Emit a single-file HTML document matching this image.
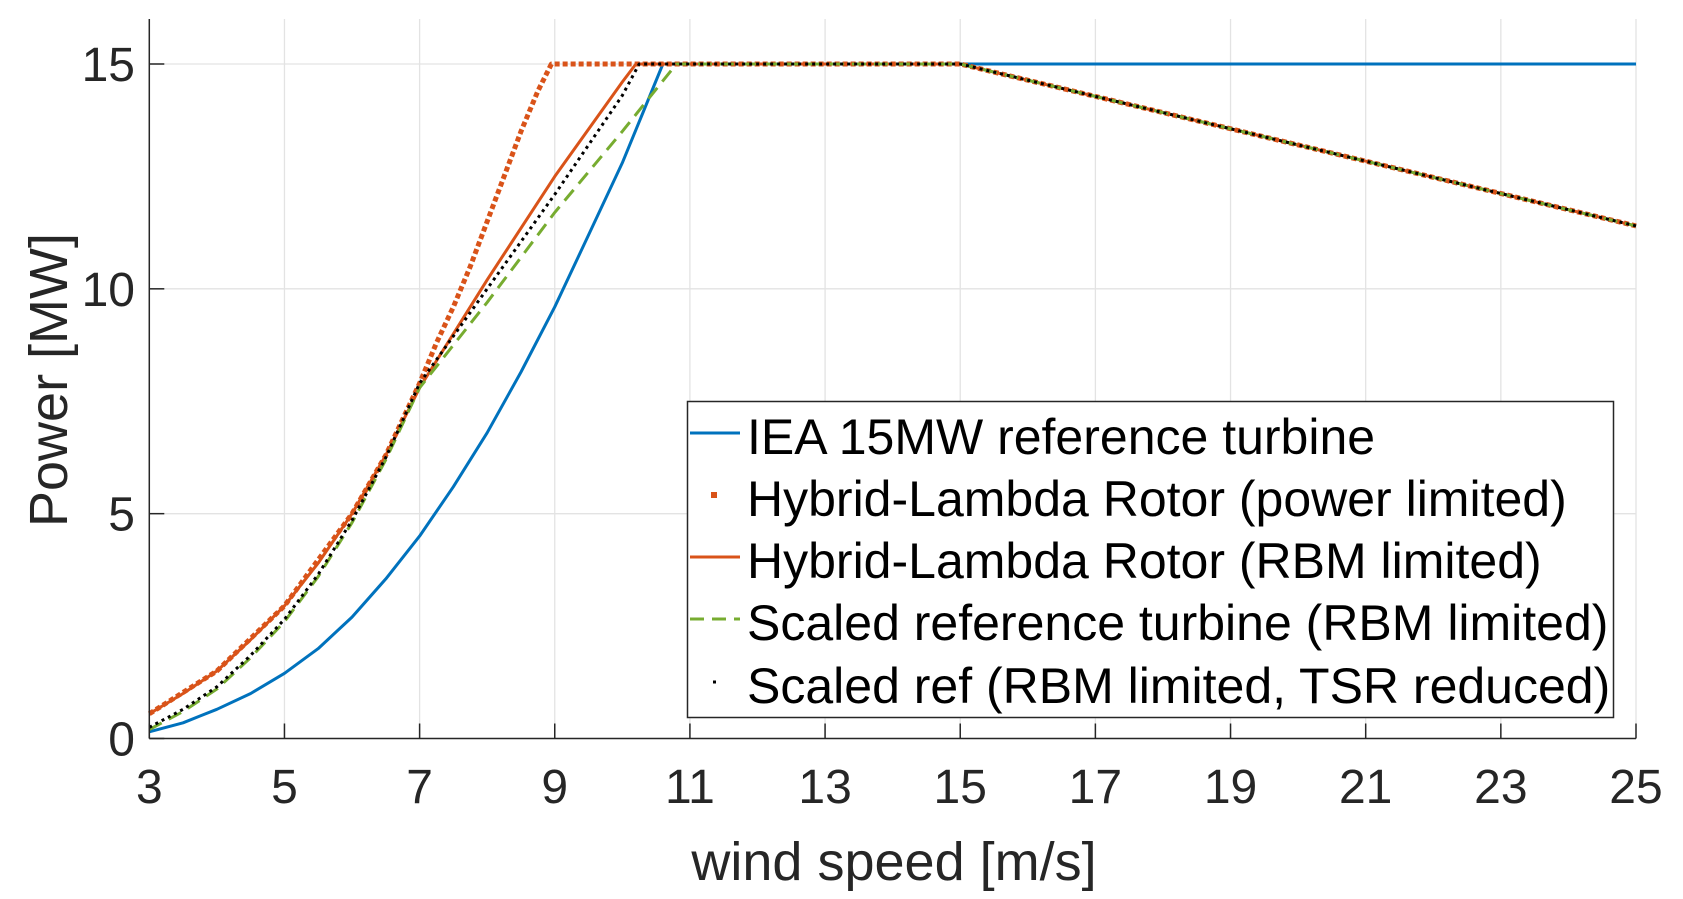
<!DOCTYPE html>
<html><head><meta charset="utf-8"><style>
html,body{margin:0;padding:0;background:#fff;}
svg{display:block;font-family:"Liberation Sans",Arial,sans-serif;}
</style></head><body>
<svg id="chart" width="1683" height="899" viewBox="0 0 1683 899" xmlns="http://www.w3.org/2000/svg"></svg>
<script>
const xTicks=[3,5,7,9,11,13,15,17,19,21,23,25];
const yTicks=[0,5,10,15];
const ieaX=[3,3.25,3.5,3.75,4,4.5,5,5.5,6,6.5,7,7.5,8,8.5,9,9.5,10,10.3,10.6,15,25];
const ieaY=[0.15,0.25,0.35,0.5,0.65,1.0,1.45,2.0,2.7,3.55,4.5,5.6,6.8,8.15,9.6,11.2,12.8,13.9,15,15,15];
const hlpX=[3,4,5,6,6.5,7,7.25,7.5,7.75,8,8.25,8.5,8.75,8.95,10.2,15,25];
const hlpY=[0.55,1.5,2.95,5.0,6.3,7.9,8.8,9.6,10.5,11.5,12.5,13.5,14.4,15,15,15,11.4];
const hlrX=[3,3.5,4,4.5,5,5.5,6,6.5,7,8,9,10,10.2,15,25];
const hlrY=[0.55,1.0,1.5,2.2,2.95,3.9,5.0,6.3,7.8,10.2,12.5,14.6,15,15,11.4];
const scX=[3,3.5,4,4.5,5,5.5,6,6.5,7,8,9,10,10.8,15,25];
const scY=[0.2,0.6,1.1,1.8,2.6,3.6,4.8,6.2,7.8,9.7,11.7,13.5,15,15,11.4];
const srX=[3,3.5,4,4.5,5,5.5,6,6.5,7,8,9,10,10.25,15,25];
const srY=[0.25,0.65,1.15,1.85,2.65,3.65,4.85,6.25,7.9,10.0,12.1,14.3,15,15,11.4];
const legendLabels=["IEA 15MW reference turbine","Hybrid-Lambda Rotor (power limited)","Hybrid-Lambda Rotor (RBM limited)","Scaled reference turbine (RBM limited)","Scaled ref (RBM limited, TSR reduced)"];

const svg=document.getElementById('chart');
const NS='http://www.w3.org/2000/svg';
const L=149.3,R=1636,T=19,B=738.5,X0=3,X1=25;
const yTop=64;
function sx(v){return L+(v-X0)/(X1-X0)*(R-L);}
function sy(v){return B-v/15*(B-yTop);}
function mk(tag,attrs,parent){const e=document.createElementNS(NS,tag);for(const k in attrs)e.setAttribute(k,attrs[k]);(parent||svg).appendChild(e);return e;}

xTicks.forEach(t=>{
  const g=mk('line',{x1:sx(t),x2:sx(t),y1:T,y2:B,stroke:'#e3e3e3','stroke-width':1.3});
  
  
});
yTicks.forEach(t=>{
  const g=mk('line',{x1:L,x2:R,y1:sy(t),y2:sy(t),stroke:'#e3e3e3','stroke-width':1.3});
  
  
});

function series(xs,ys,attrs,name){
  const pts=xs.map((x,i)=>sx(x).toFixed(1)+','+sy(ys[i]).toFixed(1)).join(' ');
  const a=Object.assign({points:pts,fill:'none','stroke-linejoin':'round'},attrs);
  const p=mk('polyline',a);
  
  
}
series(ieaX,ieaY,{stroke:'#0072BD','stroke-width':3},'series-iea-15mw');
series(hlpX,hlpY,{stroke:'#D95319','stroke-width':5,'stroke-dasharray':'5 3'},'series-hybrid-power-limited');
series(hlrX,hlrY,{stroke:'#D95319','stroke-width':3},'series-hybrid-rbm-limited');
series(scX,scY,{stroke:'#77AC30','stroke-width':3,'stroke-dasharray':'14 8'},'series-scaled-reference');
series(srX,srY,{stroke:'#000','stroke-width':3,'stroke-dasharray':'3 4'},'series-scaled-ref-tsr-reduced');

const ax=mk('line',{x1:L,x2:L,y1:T,y2:B,stroke:'#262626','stroke-width':1.5});


const bx=mk('line',{x1:L,x2:R,y1:B,y2:B,stroke:'#262626','stroke-width':1.5});



xTicks.forEach(t=>{
  const tk=mk('line',{x1:sx(t),x2:sx(t),y1:B,y2:B-15,stroke:'#262626','stroke-width':1.5});
  
  
  const tx=mk('text',{x:sx(t),y:803,'text-anchor':'middle','font-size':48,fill:'#262626'});
  tx.textContent=t;
  
  
});
yTicks.forEach(t=>{
  const tk=mk('line',{x1:L,x2:L+15,y1:sy(t),y2:sy(t),stroke:'#262626','stroke-width':1.5});
  
  
  const tx=mk('text',{x:135,y:sy(t)+17,'text-anchor':'end','font-size':48,fill:'#262626'});
  tx.textContent=t;
  
  
});

const xl=mk('text',{x:894,y:880,'text-anchor':'middle','font-size':54,fill:'#262626'});
xl.textContent='wind speed [m/s]';


const yl=mk('text',{x:0,y:0,'text-anchor':'middle','font-size':54,fill:'#262626',transform:'translate(67,380) rotate(-90)'});
yl.textContent='Power [MW]';



const lg=mk('g',{});


const box=mk('rect',{x:687.5,y:401.5,width:926,height:316,fill:'#fff',stroke:'#262626','stroke-width':1.5},lg);


const rowBase=[454,516,578,640,703];
const styles=[
 {stroke:'#0072BD','stroke-width':3},
 null,
 {stroke:'#D95319','stroke-width':3},
 {stroke:'#77AC30','stroke-width':3,'stroke-dasharray':'14 8'},
 null];
legendLabels.forEach((lab,i)=>{
  const cy=rowBase[i]-21;
  const g=mk('g',{},lg);
  
  
  if(i===1){
    mk('rect',{x:711,y:cy-3,width:6,height:6,fill:'#D95319'},g);
  }else if(i===4){
    mk('rect',{x:713,y:cy-1.5,width:3,height:3,fill:'#000'},g);
  }else{
    mk('line',Object.assign({x1:690,x2:740,y1:cy,y2:cy},styles[i]),g);
  }
  const t=mk('text',{x:747,y:rowBase[i],'font-size':50,fill:'#000'},g);
  t.textContent=lab;
});
</script>
</body></html>
